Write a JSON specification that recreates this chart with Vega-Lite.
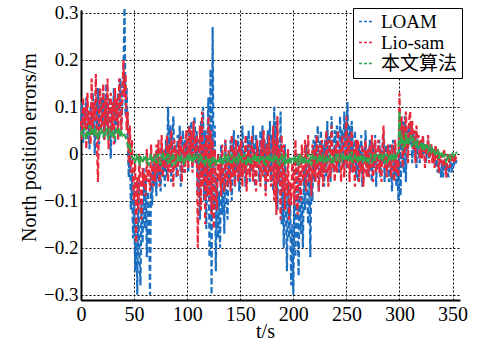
{
  "$schema": "https://vega.github.io/schema/vega-lite/v6.json",
  "width": 379,
  "height": 290,
  "autosize": {"type": "none"},
  "padding": {"left": 81, "top": 10, "right": 19, "bottom": 44},
  "background": "white",
  "config": {"font": "Liberation Serif", "view": {"stroke": null}},
  "data": {"values": [
    {"t":0,"a":0.05,"b":0.07,"c":0.04},{"t":1,"a":0.11,"b":0.03,"c":0.05},{"t":2,"a":0.02,"b":0.12,"c":0.035},{"t":3,"a":0.09,"b":0.05,"c":0.055},{"t":4,"a":0.06,"b":0.10,"c":0.045},
    {"t":5,"a":0.12,"b":0.01,"c":0.03},{"t":6,"a":0.03,"b":0.13,"c":0.05},{"t":7,"a":0.08,"b":0.06,"c":0.04},{"t":8,"a":0.01,"b":0.09,"c":0.06},{"t":9,"a":0.10,"b":0.02,"c":0.045},
    {"t":10,"a":0.04,"b":0.16,"c":0.05},{"t":11,"a":0.13,"b":0.04,"c":0.04},{"t":12,"a":0.07,"b":0.11,"c":0.055},{"t":13,"a":0.0,"b":0.07,"c":0.035},{"t":14,"a":0.11,"b":0.17,"c":0.05},
    {"t":15,"a":0.05,"b":0.02,"c":0.045},{"t":16,"a":0.14,"b":-0.06,"c":0.03},{"t":17,"a":0.02,"b":0.09,"c":0.05},{"t":18,"a":0.09,"b":0.14,"c":0.04},{"t":19,"a":0.12,"b":0.05,"c":0.055},
    {"t":20,"a":0.06,"b":0.08,"c":0.045},{"t":21,"a":0.13,"b":0.15,"c":0.035},{"t":22,"a":0.03,"b":0.03,"c":0.05},{"t":23,"a":0.10,"b":0.12,"c":0.04},{"t":24,"a":0.15,"b":0.06,"c":0.055},
    {"t":25,"a":0.04,"b":0.16,"c":0.04},{"t":26,"a":0.08,"b":0.01,"c":0.03},{"t":27,"a":0.12,"b":0.10,"c":0.05},{"t":28,"a":-0.01,"b":0.13,"c":0.045},{"t":29,"a":0.09,"b":0.04,"c":0.04},
    {"t":30,"a":0.07,"b":0.11,"c":0.05},{"t":31,"a":0.14,"b":0.02,"c":0.04},{"t":32,"a":0.02,"b":0.14,"c":0.035},{"t":33,"a":0.11,"b":0.07,"c":0.05},{"t":34,"a":0.06,"b":0.12,"c":0.045},
    {"t":35,"a":0.13,"b":0.03,"c":0.04},{"t":36,"a":0.08,"b":0.16,"c":0.055},{"t":37,"a":0.16,"b":0.09,"c":0.035},{"t":38,"a":0.05,"b":0.05,"c":0.045},{"t":39,"a":0.12,"b":0.13,"c":0.04},
    {"t":40,"a":0.18,"b":0.20,"c":0.045},{"t":41,"a":0.31,"b":0.12,"c":0.04},{"t":42,"a":0.08,"b":0.17,"c":0.035},{"t":43,"a":0.14,"b":0.05,"c":0.03},{"t":44,"a":0.03,"b":0.09,"c":0.02},
    {"t":45,"a":-0.05,"b":-0.02,"c":0.01},{"t":46,"a":0.02,"b":0.06,"c":0.015},{"t":47,"a":-0.12,"b":-0.04,"c":0.0},{"t":48,"a":-0.04,"b":0.03,"c":-0.005},{"t":49,"a":-0.18,"b":-0.06,"c":-0.01},
    {"t":50,"a":-0.08,"b":-0.10,"c":-0.01},{"t":51,"a":-0.25,"b":-0.02,"c":-0.02},{"t":52,"a":-0.14,"b":-0.19,"c":0.0},{"t":53,"a":-0.30,"b":-0.05,"c":-0.015},{"t":54,"a":-0.06,"b":-0.12,"c":-0.01},
    {"t":55,"a":-0.22,"b":0.0,"c":-0.025},{"t":56,"a":-0.28,"b":-0.08,"c":-0.005},{"t":57,"a":-0.10,"b":-0.14,"c":-0.015},{"t":58,"a":-0.19,"b":-0.03,"c":-0.02},{"t":59,"a":-0.03,"b":-0.07,"c":-0.01},
    {"t":60,"a":-0.16,"b":-0.04,"c":-0.015},{"t":61,"a":-0.05,"b":-0.09,"c":-0.005},{"t":62,"a":-0.22,"b":0.01,"c":-0.02},{"t":63,"a":-0.08,"b":-0.06,"c":-0.01},{"t":64,"a":-0.13,"b":-0.03,"c":-0.025},
    {"t":65,"a":-0.30,"b":-0.08,"c":-0.01},{"t":66,"a":-0.04,"b":0.02,"c":0.0},{"t":67,"a":-0.11,"b":-0.05,"c":-0.015},{"t":68,"a":-0.02,"b":-0.07,"c":-0.02},{"t":69,"a":-0.07,"b":0.0,"c":-0.01},
    {"t":70,"a":-0.03,"b":-0.06,"c":-0.005},{"t":71,"a":-0.09,"b":0.02,"c":-0.02},{"t":72,"a":0.01,"b":-0.04,"c":-0.01},{"t":73,"a":-0.06,"b":0.03,"c":0.0},{"t":74,"a":-0.02,"b":-0.07,"c":-0.015},
    {"t":75,"a":-0.08,"b":-0.01,"c":-0.02},{"t":76,"a":0.02,"b":0.04,"c":-0.01},{"t":77,"a":-0.05,"b":-0.05,"c":0.005},{"t":78,"a":-0.01,"b":0.01,"c":-0.015},{"t":79,"a":-0.07,"b":-0.03,"c":-0.01},
    {"t":80,"a":0.03,"b":-0.02,"c":-0.01},{"t":81,"a":-0.05,"b":0.04,"c":-0.005},{"t":82,"a":0.10,"b":-0.06,"c":-0.02},{"t":83,"a":-0.02,"b":0.02,"c":0.0},{"t":84,"a":0.06,"b":-0.04,"c":-0.015},
    {"t":85,"a":-0.06,"b":0.05,"c":-0.01},{"t":86,"a":0.04,"b":-0.01,"c":-0.025},{"t":87,"a":0.08,"b":-0.07,"c":-0.005},{"t":88,"a":-0.03,"b":0.03,"c":-0.01},{"t":89,"a":0.02,"b":-0.03,"c":-0.02},
    {"t":90,"a":-0.05,"b":0.01,"c":-0.015},{"t":91,"a":0.04,"b":-0.05,"c":-0.005},{"t":92,"a":-0.02,"b":0.03,"c":-0.01},{"t":93,"a":0.06,"b":-0.02,"c":-0.02},{"t":94,"a":-0.07,"b":0.04,"c":0.0},
    {"t":95,"a":0.01,"b":-0.06,"c":-0.015},{"t":96,"a":0.05,"b":0.0,"c":-0.01},{"t":97,"a":-0.04,"b":0.02,"c":-0.025},{"t":98,"a":0.03,"b":-0.04,"c":-0.005},{"t":99,"a":-0.01,"b":0.05,"c":-0.01},
    {"t":100,"a":0.02,"b":0.03,"c":-0.01},{"t":101,"a":-0.04,"b":-0.03,"c":0.0},{"t":102,"a":0.06,"b":0.06,"c":-0.015},{"t":103,"a":0.0,"b":0.0,"c":-0.005},{"t":104,"a":0.07,"b":0.05,"c":-0.01},
    {"t":105,"a":-0.03,"b":-0.04,"c":-0.02},{"t":106,"a":0.04,"b":0.07,"c":0.0},{"t":107,"a":0.08,"b":0.02,"c":-0.01},{"t":108,"a":-0.02,"b":-0.02,"c":-0.015},{"t":109,"a":0.05,"b":0.04,"c":-0.005},
    {"t":110,"a":-0.08,"b":-0.20,"c":-0.01},{"t":111,"a":0.03,"b":-0.04,"c":-0.02},{"t":112,"a":-0.14,"b":0.06,"c":0.0},{"t":113,"a":0.07,"b":-0.12,"c":-0.015},{"t":114,"a":-0.05,"b":0.09,"c":-0.005},
    {"t":115,"a":0.10,"b":-0.07,"c":-0.02},{"t":116,"a":-0.10,"b":0.02,"c":-0.01},{"t":117,"a":0.05,"b":-0.15,"c":-0.025},{"t":118,"a":-0.16,"b":0.04,"c":-0.01},{"t":119,"a":0.02,"b":-0.09,"c":-0.015},
    {"t":120,"a":0.12,"b":0.08,"c":-0.02},{"t":121,"a":-0.22,"b":-0.10,"c":-0.01},{"t":122,"a":0.18,"b":0.05,"c":-0.03},{"t":123,"a":-0.30,"b":-0.13,"c":-0.015},{"t":124,"a":0.27,"b":0.03,"c":-0.005},
    {"t":125,"a":-0.12,"b":-0.16,"c":-0.02},{"t":126,"a":0.06,"b":0.01,"c":-0.01},{"t":127,"a":-0.25,"b":-0.08,"c":-0.025},{"t":128,"a":-0.05,"b":-0.12,"c":-0.015},{"t":129,"a":-0.18,"b":0.0,"c":-0.01},
    {"t":130,"a":-0.08,"b":-0.06,"c":-0.015},{"t":131,"a":-0.20,"b":-0.02,"c":-0.005},{"t":132,"a":0.02,"b":-0.09,"c":-0.02},{"t":133,"a":-0.13,"b":0.02,"c":-0.01},{"t":134,"a":-0.04,"b":-0.05,"c":-0.025},
    {"t":135,"a":-0.17,"b":-0.08,"c":0.0},{"t":136,"a":0.03,"b":0.03,"c":-0.015},{"t":137,"a":-0.09,"b":-0.04,"c":-0.01},{"t":138,"a":-0.14,"b":-0.07,"c":-0.02},{"t":139,"a":-0.02,"b":0.01,"c":-0.005},
    {"t":140,"a":-0.06,"b":-0.03,"c":-0.01},{"t":141,"a":0.03,"b":-0.08,"c":-0.02},{"t":142,"a":-0.10,"b":0.04,"c":0.0},{"t":143,"a":-0.01,"b":-0.05,"c":-0.015},{"t":144,"a":0.05,"b":0.01,"c":-0.01},
    {"t":145,"a":-0.07,"b":-0.07,"c":-0.005},{"t":146,"a":0.0,"b":0.03,"c":-0.02},{"t":147,"a":-0.04,"b":-0.02,"c":-0.01},{"t":148,"a":0.04,"b":-0.06,"c":-0.015},{"t":149,"a":-0.08,"b":0.02,"c":0.0},
    {"t":150,"a":0.02,"b":-0.05,"c":-0.015},{"t":151,"a":-0.05,"b":0.03,"c":-0.005},{"t":152,"a":0.06,"b":-0.07,"c":-0.02},{"t":153,"a":-0.03,"b":0.0,"c":-0.01},{"t":154,"a":0.01,"b":-0.04,"c":0.0},
    {"t":155,"a":-0.07,"b":0.04,"c":-0.015},{"t":156,"a":0.04,"b":-0.08,"c":-0.025},{"t":157,"a":-0.02,"b":-0.01,"c":-0.01},{"t":158,"a":0.05,"b":0.02,"c":-0.005},{"t":159,"a":-0.06,"b":-0.05,"c":-0.02},
    {"t":160,"a":0.03,"b":-0.02,"c":-0.01},{"t":161,"a":-0.04,"b":0.04,"c":-0.02},{"t":162,"a":0.06,"b":-0.06,"c":-0.005},{"t":163,"a":-0.01,"b":0.01,"c":-0.015},{"t":164,"a":-0.07,"b":-0.04,"c":0.0},
    {"t":165,"a":0.04,"b":-0.08,"c":-0.01},{"t":166,"a":-0.03,"b":0.03,"c":-0.02},{"t":167,"a":0.02,"b":-0.03,"c":-0.005},{"t":168,"a":-0.06,"b":0.0,"c":-0.015},{"t":169,"a":0.05,"b":-0.07,"c":-0.01},
    {"t":170,"a":-0.02,"b":0.03,"c":-0.015},{"t":171,"a":0.06,"b":-0.05,"c":-0.005},{"t":172,"a":-0.05,"b":0.05,"c":-0.02},{"t":173,"a":0.03,"b":-0.02,"c":-0.01},{"t":174,"a":-0.08,"b":-0.09,"c":-0.025},
    {"t":175,"a":0.01,"b":0.02,"c":-0.005},{"t":176,"a":0.05,"b":-0.06,"c":-0.015},{"t":177,"a":-0.04,"b":0.04,"c":-0.01},{"t":178,"a":0.07,"b":-0.03,"c":0.0},{"t":179,"a":-0.06,"b":-0.07,"c":-0.02},
    {"t":180,"a":0.04,"b":-0.04,"c":-0.01},{"t":181,"a":-0.08,"b":0.06,"c":-0.02},{"t":182,"a":0.10,"b":-0.10,"c":0.0},{"t":183,"a":-0.03,"b":0.03,"c":-0.015},{"t":184,"a":0.07,"b":-0.13,"c":-0.005},
    {"t":185,"a":-0.12,"b":0.08,"c":-0.02},{"t":186,"a":0.02,"b":-0.06,"c":-0.01},{"t":187,"a":-0.06,"b":0.01,"c":-0.025},{"t":188,"a":0.09,"b":-0.14,"c":-0.01},{"t":189,"a":-0.15,"b":0.04,"c":-0.005},
    {"t":190,"a":-0.05,"b":-0.08,"c":-0.015},{"t":191,"a":-0.20,"b":0.02,"c":-0.01},{"t":192,"a":0.02,"b":-0.12,"c":-0.025},{"t":193,"a":-0.12,"b":-0.04,"c":0.0},{"t":194,"a":-0.25,"b":-0.09,"c":-0.02},
    {"t":195,"a":-0.06,"b":0.01,"c":-0.01},{"t":196,"a":-0.18,"b":-0.14,"c":-0.015},{"t":197,"a":-0.10,"b":-0.06,"c":-0.005},{"t":198,"a":-0.28,"b":-0.11,"c":-0.02},{"t":199,"a":-0.15,"b":-0.02,"c":-0.01},
    {"t":200,"a":-0.30,"b":-0.05,"c":-0.01},{"t":201,"a":-0.08,"b":-0.11,"c":-0.02},{"t":202,"a":-0.22,"b":0.03,"c":-0.005},{"t":203,"a":0.0,"b":-0.08,"c":-0.015},{"t":204,"a":-0.14,"b":-0.13,"c":-0.01},
    {"t":205,"a":-0.26,"b":0.0,"c":-0.025},{"t":206,"a":-0.04,"b":-0.07,"c":0.0},{"t":207,"a":-0.17,"b":-0.10,"c":-0.015},{"t":208,"a":-0.09,"b":0.02,"c":-0.01},{"t":209,"a":-0.20,"b":-0.06,"c":-0.02},
    {"t":210,"a":-0.03,"b":-0.04,"c":-0.005},{"t":211,"a":-0.12,"b":0.03,"c":-0.015},{"t":212,"a":0.02,"b":-0.08,"c":-0.01},{"t":213,"a":-0.08,"b":-0.02,"c":-0.02},{"t":214,"a":-0.15,"b":0.04,"c":0.0},
    {"t":215,"a":-0.01,"b":-0.06,"c":-0.015},{"t":216,"a":-0.22,"b":-0.01,"c":-0.01},{"t":217,"a":-0.05,"b":-0.09,"c":-0.025},{"t":218,"a":-0.10,"b":0.02,"c":-0.005},{"t":219,"a":0.03,"b":-0.05,"c":-0.01},
    {"t":220,"a":-0.06,"b":0.01,"c":-0.015},{"t":221,"a":0.04,"b":-0.06,"c":-0.005},{"t":222,"a":-0.03,"b":0.04,"c":-0.02},{"t":223,"a":0.06,"b":-0.03,"c":-0.01},{"t":224,"a":-0.08,"b":-0.08,"c":-0.015},
    {"t":225,"a":0.01,"b":0.02,"c":0.0},{"t":226,"a":0.05,"b":-0.05,"c":-0.02},{"t":227,"a":-0.04,"b":0.03,"c":-0.01},{"t":228,"a":0.02,"b":-0.07,"c":-0.005},{"t":229,"a":-0.07,"b":0.0,"c":-0.015},
    {"t":230,"a":0.03,"b":-0.04,"c":-0.01},{"t":231,"a":-0.05,"b":0.05,"c":-0.02},{"t":232,"a":0.07,"b":-0.02,"c":-0.005},{"t":233,"a":-0.02,"b":-0.07,"c":-0.015},{"t":234,"a":0.04,"b":0.03,"c":0.0},
    {"t":235,"a":-0.06,"b":-0.05,"c":-0.01},{"t":236,"a":0.08,"b":0.06,"c":-0.02},{"t":237,"a":0.0,"b":-0.03,"c":-0.005},{"t":238,"a":-0.04,"b":0.01,"c":-0.015},{"t":239,"a":0.05,"b":-0.06,"c":-0.01},
    {"t":240,"a":-0.02,"b":0.02,"c":-0.005},{"t":241,"a":0.06,"b":-0.04,"c":-0.015},{"t":242,"a":0.01,"b":0.05,"c":0.0},{"t":243,"a":-0.04,"b":-0.02,"c":-0.01},{"t":244,"a":0.08,"b":0.01,"c":-0.02},
    {"t":245,"a":-0.01,"b":-0.06,"c":-0.005},{"t":246,"a":0.05,"b":0.04,"c":-0.01},{"t":247,"a":-0.03,"b":-0.01,"c":0.0},{"t":248,"a":0.09,"b":-0.05,"c":-0.015},{"t":249,"a":0.02,"b":0.03,"c":-0.01},
    {"t":250,"a":-0.03,"b":0.08,"c":-0.01},{"t":251,"a":0.11,"b":-0.03,"c":0.0},{"t":252,"a":0.0,"b":0.04,"c":-0.015},{"t":253,"a":0.06,"b":-0.06,"c":-0.005},{"t":254,"a":-0.04,"b":0.02,"c":-0.01},
    {"t":255,"a":0.07,"b":0.05,"c":0.005},{"t":256,"a":0.01,"b":-0.04,"c":-0.02},{"t":257,"a":-0.02,"b":0.01,"c":-0.01},{"t":258,"a":0.05,"b":-0.07,"c":-0.005},{"t":259,"a":-0.05,"b":0.03,"c":-0.015},
    {"t":260,"a":0.03,"b":-0.02,"c":-0.01},{"t":261,"a":-0.06,"b":0.03,"c":-0.02},{"t":262,"a":0.02,"b":-0.06,"c":-0.005},{"t":263,"a":-0.03,"b":0.0,"c":-0.015},{"t":264,"a":0.04,"b":-0.04,"c":0.0},
    {"t":265,"a":-0.07,"b":0.02,"c":-0.01},{"t":266,"a":0.01,"b":-0.07,"c":-0.02},{"t":267,"a":-0.02,"b":-0.01,"c":-0.005},{"t":268,"a":0.05,"b":0.03,"c":-0.01},{"t":269,"a":-0.04,"b":-0.05,"c":-0.015},
    {"t":270,"a":0.01,"b":0.01,"c":-0.005},{"t":271,"a":-0.05,"b":-0.05,"c":-0.015},{"t":272,"a":0.03,"b":0.02,"c":-0.01},{"t":273,"a":-0.02,"b":-0.03,"c":0.0},{"t":274,"a":-0.06,"b":0.04,"c":-0.02},
    {"t":275,"a":0.02,"b":-0.06,"c":-0.01},{"t":276,"a":-0.03,"b":-0.01,"c":-0.005},{"t":277,"a":0.04,"b":0.03,"c":-0.015},{"t":278,"a":-0.07,"b":-0.04,"c":0.0},{"t":279,"a":0.0,"b":-0.02,"c":-0.01},
    {"t":280,"a":-0.03,"b":0.03,"c":-0.01},{"t":281,"a":0.03,"b":-0.04,"c":-0.005},{"t":282,"a":-0.05,"b":0.01,"c":-0.015},{"t":283,"a":0.01,"b":-0.06,"c":0.0},{"t":284,"a":-0.02,"b":0.02,"c":-0.01},
    {"t":285,"a":0.04,"b":0.06,"c":-0.005},{"t":286,"a":-0.06,"b":-0.03,"c":-0.02},{"t":287,"a":0.02,"b":0.0,"c":-0.01},{"t":288,"a":-0.04,"b":-0.05,"c":0.0},{"t":289,"a":0.01,"b":0.02,"c":-0.015},
    {"t":290,"a":-0.06,"b":-0.03,"c":-0.01},{"t":291,"a":0.02,"b":0.01,"c":0.0},{"t":292,"a":-0.03,"b":-0.05,"c":-0.015},{"t":293,"a":-0.08,"b":0.02,"c":-0.005},{"t":294,"a":0.03,"b":-0.02,"c":-0.01},
    {"t":295,"a":-0.05,"b":-0.06,"c":0.0},{"t":296,"a":0.01,"b":0.03,"c":-0.015},{"t":297,"a":-0.07,"b":-0.04,"c":-0.005},{"t":298,"a":-0.02,"b":0.0,"c":0.005},{"t":299,"a":-0.10,"b":-0.05,"c":0.0},
    {"t":300,"a":0.06,"b":0.13,"c":0.09},{"t":301,"a":-0.09,"b":0.02,"c":0.02},{"t":302,"a":0.03,"b":0.08,"c":0.04},{"t":303,"a":0.07,"b":-0.03,"c":0.01},{"t":304,"a":-0.04,"b":0.06,"c":0.03},
    {"t":305,"a":0.08,"b":0.0,"c":0.015},{"t":306,"a":-0.06,"b":0.09,"c":0.045},{"t":307,"a":0.05,"b":0.03,"c":0.02},{"t":308,"a":0.01,"b":-0.02,"c":0.035},{"t":309,"a":0.06,"b":0.07,"c":0.025},
    {"t":310,"a":0.02,"b":0.09,"c":0.03},{"t":311,"a":0.07,"b":0.03,"c":0.04},{"t":312,"a":-0.02,"b":0.07,"c":0.015},{"t":313,"a":0.05,"b":0.01,"c":0.035},{"t":314,"a":0.0,"b":0.05,"c":0.02},
    {"t":315,"a":0.04,"b":-0.02,"c":0.03},{"t":316,"a":-0.03,"b":0.06,"c":0.01},{"t":317,"a":0.03,"b":0.02,"c":0.025},{"t":318,"a":0.01,"b":0.04,"c":0.02},{"t":319,"a":-0.02,"b":-0.01,"c":0.015},
    {"t":320,"a":0.02,"b":0.03,"c":0.02},{"t":321,"a":-0.01,"b":-0.01,"c":0.01},{"t":322,"a":0.03,"b":0.04,"c":0.025},{"t":323,"a":0.0,"b":0.01,"c":0.005},{"t":324,"a":0.02,"b":-0.03,"c":0.015},
    {"t":325,"a":-0.02,"b":0.02,"c":0.01},{"t":326,"a":0.01,"b":0.0,"c":0.02},{"t":327,"a":0.03,"b":0.04,"c":0.005},{"t":328,"a":-0.01,"b":-0.02,"c":0.01},{"t":329,"a":0.02,"b":0.01,"c":0.015},
    {"t":330,"a":0.0,"b":0.02,"c":0.005},{"t":331,"a":0.01,"b":-0.02,"c":0.01},{"t":332,"a":-0.02,"b":0.01,"c":0.0},{"t":333,"a":0.0,"b":-0.03,"c":0.005},{"t":334,"a":-0.03,"b":0.02,"c":-0.005},
    {"t":335,"a":-0.01,"b":-0.01,"c":0.0},{"t":336,"a":-0.04,"b":0.01,"c":0.005},{"t":337,"a":-0.02,"b":-0.04,"c":-0.01},{"t":338,"a":-0.03,"b":0.0,"c":0.0},{"t":339,"a":-0.05,"b":-0.02,"c":-0.005},
    {"t":340,"a":-0.02,"b":0.0,"c":0.0},{"t":341,"a":-0.05,"b":-0.03,"c":-0.005},{"t":342,"a":-0.03,"b":0.01,"c":-0.01},{"t":343,"a":-0.01,"b":-0.02,"c":0.0},{"t":344,"a":-0.04,"b":-0.05,"c":-0.015},
    {"t":345,"a":-0.02,"b":-0.01,"c":-0.01},{"t":346,"a":-0.05,"b":0.0,"c":-0.005},{"t":347,"a":-0.03,"b":-0.03,"c":0.0},{"t":348,"a":-0.01,"b":-0.02,"c":-0.01},{"t":349,"a":-0.04,"b":0.0,"c":-0.005},
    {"t":350,"a":-0.02,"b":-0.01,"c":0.0},{"t":351,"a":-0.03,"b":-0.02,"c":-0.005},{"t":352,"a":-0.01,"b":0.0,"c":0.0},{"t":353,"a":-0.02,"b":-0.01,"c":0.005},{"t":354,"a":-0.01,"b":-0.005,"c":0.0}
  ]},
  "transform": [{"fold": ["a", "b", "c"], "as": ["k", "e"]}],
  "mark": {"type": "line", "strokeWidth": 2.2, "strokeDash": [6, 3], "clip": false},
  "encoding": {
    "x": {
      "field": "t", "type": "quantitative",
      "scale": {"domain": [0, 357], "nice": false, "zero": false},
      "axis": {
        "title": "t/s", "values": [0, 50, 100, 150, 200, 250, 300, 350],
        "grid": true, "gridColor": "black", "gridDash": [2, 2], "gridWidth": 1, "gridOpacity": 1,
        "domainColor": "black", "domainWidth": 2, "ticks": false,
        "labelFontSize": 20, "labelColor": "black", "labelPadding": 4, "labelFlush": false, "labelOverlap": false,
        "titleFontSize": 20, "titleFontWeight": "normal", "titleColor": "black",
        "titleX": 184, "titleY": 37, "titleBaseline": "alphabetic"
      }
    },
    "y": {
      "field": "e", "type": "quantitative",
      "scale": {"domain": [-0.311, 0.306], "nice": false, "zero": false},
      "axis": {
        "title": "North position errors/m", "values": [-0.3, -0.2, -0.1, 0, 0.1, 0.2, 0.3],
        "labelExpr": "datum.value == 0 ? '0' : format(datum.value, '.1f')",
        "grid": true, "gridColor": "black", "gridDash": [2, 2], "gridWidth": 1, "gridOpacity": 1,
        "domainColor": "black", "domainWidth": 2, "ticks": false,
        "labelFontSize": 19, "labelColor": "black", "labelPadding": 3, "labelFlush": false, "labelOverlap": false,
        "titleFontSize": 20, "titleFontWeight": "normal", "titleColor": "black",
        "titleX": -52, "titleY": 137, "titleBaseline": "middle"
      }
    },
    "color": {
      "field": "k", "type": "nominal",
      "scale": {"domain": ["a", "b", "c"], "range": ["#1c6fc0", "#e62a3c", "#2ea84e"]},
      "legend": {
        "orient": "none", "legendX": 272, "legendY": -2, "title": null,
        "fillColor": "white", "strokeColor": "black", "padding": 4,
        "symbolType": "stroke", "symbolSize": 225, "symbolStrokeWidth": 1.5, "symbolDash": [3, 2],
        "labelFontSize": 19, "labelColor": "black", "labelOffset": 5, "rowPadding": 1,
        "labelFont": "Liberation Serif, Noto Sans CJK SC",
        "labelExpr": "datum.label == 'a' ? 'LOAM' : datum.label == 'b' ? 'Lio-sam' : '本文算法'"
      }
    }
  }
}
